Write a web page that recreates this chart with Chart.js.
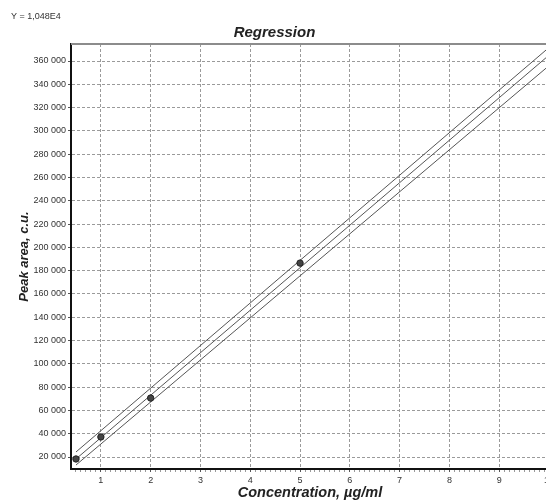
<!DOCTYPE html>
<html>
<head>
<meta charset="utf-8">
<script src="https://cdn.jsdelivr.net/npm/chart.js@4/dist/chart.umd.min.js"></script>
<style>
  html, body { margin: 0; padding: 0; overflow: hidden; background: #fff; }
  #wrap { width: 560px; height: 504px; }
</style>
</head>
<body>
<div id="wrap"><canvas id="regChart" width="560" height="504"></canvas></div>
<script>
// calibration points
const concentrations = [0.5, 1, 2, 5];
const peakAreas = [18300, 37200, 70600, 186500];

// regression line and its band, ends of each line
const lineX = [0.5, 10];
const fitLine = [18300, 365000];
const upperBand = [24300, 371600];
const lowerBand = [13100, 356000];

// axis ticks
const yTicks = [20000, 40000, 60000, 80000, 100000, 120000, 140000, 160000, 180000,
  200000, 220000, 240000, 260000, 280000, 300000, 320000, 340000, 360000];
const xLabels = [1, 2, 3, 4, 5, 6, 7, 8, 9, 10];

const equationText = 'Y = 1,048E4';

const gridGray = '#9a9a9a';
const lineGray = '#555';

function isMajor(v) {
    return xLabels.includes(Math.round(v * 10) / 10);
}

function spaced(v) {
    return String(v).replace(/\B(?=(\d{3})+(?!\d))/g, ' ');
}

function toPoints(xs, ys) {
    return xs.map((x, i) => ({ x: x, y: ys[i] }));
}

// small text at the top left + grey top frame line
const extras = {
    id: 'extras',
    afterDraw(chart) {
        const ctx = chart.ctx;
        const area = chart.chartArea;
        ctx.save();
        ctx.strokeStyle = '#8c8c8c';
        ctx.lineWidth = 2;
        ctx.beginPath();
        ctx.moveTo(area.left, area.top);
        ctx.lineTo(area.right, area.top);
        ctx.stroke();

        ctx.fillStyle = '#333';
        ctx.font = '9px "Liberation Sans", Arial, sans-serif';
        ctx.textBaseline = 'middle';
        ctx.fillText(equationText, 11, 17);
        ctx.restore();
    }
};

const lineStyle = {
    showLine: true,
    pointRadius: 0,
    borderWidth: 1,
    borderColor: lineGray,
    fill: false
};

new Chart(document.getElementById('regChart'), {
    type: 'scatter',
    data: {
        datasets: [
            {
                label: 'Standards',
                data: toPoints(concentrations, peakAreas),
                pointRadius: 3.2,
                backgroundColor: '#444',
                borderColor: '#222',
                borderWidth: 1
            },
            Object.assign({ label: 'Fit', data: toPoints(lineX, fitLine) }, lineStyle),
            Object.assign({ label: 'Upper', data: toPoints(lineX, upperBand) }, lineStyle),
            Object.assign({ label: 'Lower', data: toPoints(lineX, lowerBand) }, lineStyle)
        ]
    },
    options: {
        responsive: false,
        animation: false,
        layout: { padding: { left: 0, right: 11, top: 0, bottom: 0 } },
        plugins: {
            legend: { display: false },
            tooltip: { enabled: false },
            title: {
                display: true,
                text: 'Regression',
                color: '#222',
                font: { family: '"Liberation Sans", Arial, sans-serif', size: 15, weight: 'bold', style: 'italic' },
                padding: { top: 24, bottom: 2 }
            }
        },
        scales: {
            x: {
                type: 'linear',
                min: 0.4,
                max: 10,
                afterBuildTicks(scale) {
                    const t = [];
                    for (let i = 5; i <= 100; i++) t.push({ value: i / 10 });
                    scale.ticks = t;
                },
                afterFit(scale) { scale.height = 35; },
                grid: {
                    color: (c) => (c.tick && isMajor(c.tick.value)) ? gridGray : 'rgba(0,0,0,0)',
                    tickColor: (c) => (c.tick && isMajor(c.tick.value)) ? lineGray : '#999',
                    tickLength: 3
                },
                border: { color: '#111', width: 2, dash: [3, 2] },
                ticks: {
                    autoSkip: false,
                    maxRotation: 0,
                    padding: 3,
                    color: '#333',
                    font: { family: '"Liberation Sans", Arial, sans-serif', size: 9 },
                    callback: (v) => isMajor(v) ? String(Math.round(v)) : ''
                },
                title: {
                    display: true,
                    text: 'Concentration, µg/ml',
                    color: '#222',
                    font: { family: '"Liberation Sans", Arial, sans-serif', size: 14.5, weight: 'bold', style: 'italic' },
                    padding: { top: 0, bottom: 2 }
                }
            },
            y: {
                min: 9700,
                max: 374600,
                afterBuildTicks(scale) {
                    scale.ticks = yTicks.map(v => ({ value: v }));
                },
                afterFit(scale) { scale.width = 71; },
                grid: {
                    color: gridGray,
                    tickColor: lineGray,
                    tickLength: 3
                },
                border: { color: '#111', width: 2, dash: [3, 2] },
                ticks: {
                    padding: 2,
                    color: '#333',
                    font: { family: '"Liberation Sans", Arial, sans-serif', size: 9 },
                    callback: (v) => spaced(v)
                },
                title: {
                    display: true,
                    text: 'Peak area, c.u.',
                    color: '#222',
                    font: { family: '"Liberation Sans", Arial, sans-serif', size: 13, weight: 'bold', style: 'italic' },
                    padding: { top: 17 }
                }
            }
        }
    },
    plugins: [extras]
});
</script>
</body>
</html>
